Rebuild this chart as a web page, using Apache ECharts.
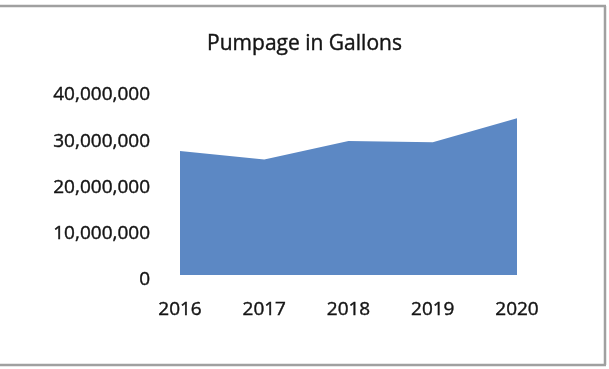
<!DOCTYPE html>
<html>
<head>
<meta charset="utf-8">
<script src="https://cdn.jsdelivr.net/npm/echarts@6/dist/echarts.min.js"></script>
<style>
  html, body { margin: 0; padding: 0; background: #fff; }
  #chart { width: 609px; height: 369px; }
</style>
</head>
<body>
<div id="chart"></div>
<script>
// Annual pumpage totals
const years = ['2016', '2017', '2018', '2019', '2020'];
const gallons = [26800000, 25000000, 29000000, 28700000, 33900000];
const yTicks = { min: 0, max: 40000000, interval: 10000000 };

const chart = echarts.init(document.getElementById('chart'));
const font = '"Open Sans", "Noto Sans", sans-serif';
const ink = '#141414';
const frame = { stroke: '#a0a0a0', lineWidth: 2.5 };
// slightly heavier strokes for all text
const heavy = { color: ink, textBorderColor: ink, textBorderWidth: 0.4 };

chart.setOption({
  animation: false,
  backgroundColor: '#ffffff',
  title: {
    text: 'Pumpage in Gallons',
    left: 'center',
    top: 29,
    textStyle: Object.assign({ fontFamily: font, fontSize: 21, fontWeight: 'normal' }, heavy)
  },
  // frame: top, right and bottom edges
  graphic: [
    { type: 'line', silent: true, shape: { x1: 0, y1: 6, x2: 606, y2: 6 }, style: frame },
    { type: 'line', silent: true, shape: { x1: 605, y1: 6, x2: 605, y2: 365 }, style: frame },
    { type: 'line', silent: true, shape: { x1: 0, y1: 365, x2: 606, y2: 365 }, style: frame }
  ],
  grid: { left: 180, right: 92, top: 90, bottom: 94 },
  xAxis: {
    type: 'category',
    data: years,
    boundaryGap: false,
    axisLine: { show: false },
    axisTick: { show: false },
    axisLabel: Object.assign({ margin: 25, fontFamily: font, fontSize: 19 }, heavy)
  },
  yAxis: {
    type: 'value',
    min: yTicks.min,
    max: yTicks.max,
    interval: yTicks.interval,
    splitLine: { show: false },
    axisLine: { show: false },
    axisTick: { show: false },
    axisLabel: Object.assign({
      margin: 30,
      fontFamily: font,
      fontSize: 19,
      verticalAlign: 'top',
      lineHeight: 10,
      formatter: v => v.toLocaleString('en-US')
    }, heavy)
  },
  series: [{
    type: 'line',
    data: gallons,
    symbol: 'none',
    lineStyle: { width: 0 },
    itemStyle: { color: '#5c88c4' },
    areaStyle: { color: '#5c88c4', opacity: 1 }
  }]
});
</script>
</body>
</html>
